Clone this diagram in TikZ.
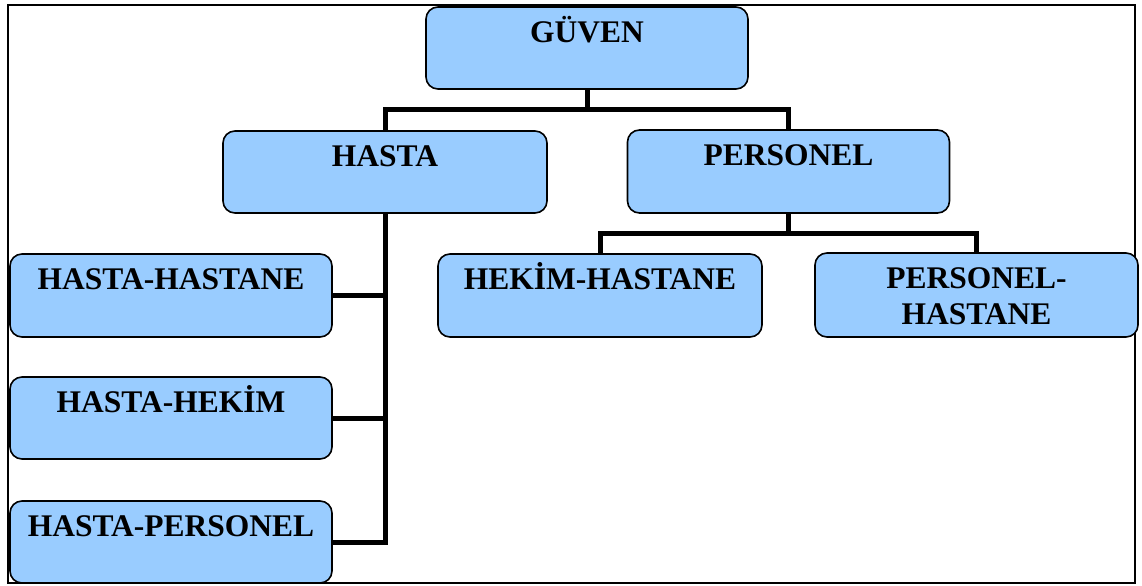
\documentclass[tikz,border=0pt]{standalone}
\usepackage{fontspec}
\setmainfont{Liberation Serif}
\usetikzlibrary{calc}
\definecolor{boxblue}{HTML}{99CCFF}
\tikzset{
  box/.style={rectangle, rounded corners=12bp, draw=black, line width=1.6bp,
    fill=boxblue, inner sep=0pt},
  boxtext/.style={anchor=base, inner sep=0pt, align=center,
    font=\fontsize{31.5bp}{36bp}\selectfont\bfseries},
  conn/.style={draw=black, line width=5bp, line join=miter},
  frame/.style={draw=black, line width=1.8bp}
}
\begin{document}
\begin{tikzpicture}[x=1bp, y=-1bp]
  \useasboundingbox (0,0) rectangle (1142,586);
  % outer frame
  \draw[frame] (8,5) rectangle (1135,583);

  % boxes
  \node[box, minimum width=322bp, minimum height=82bp] (guven)    at (587,48)    {};
  \node[box, minimum width=324bp, minimum height=82bp] (hasta)    at (385,172)   {};
  \node[box, minimum width=322bp, minimum height=83bp] (personel) at (788.5,171.5) {};
  \node[box, minimum width=322bp, minimum height=83bp] (hhast)    at (171,295.5) {};
  \node[box, minimum width=322bp, minimum height=82bp] (hhek)     at (171,418)   {};
  \node[box, minimum width=322bp, minimum height=82bp] (hpers)    at (171,542)   {};
  \node[box, minimum width=324bp, minimum height=83bp] (hekhas)   at (600,295.5) {};
  \node[box, minimum width=323bp, minimum height=84bp] (pershas)  at (976.5,295) {};

  % junction points of the connector bars
  \coordinate (j1) at (587,110);
  \coordinate (j2) at (788.5,234);

  % GÜVEN to its two branches
  \draw[conn] (guven.south) -- (j1);
  \draw[conn] (hasta.north) |- (j1) -| (personel.north);

  % HASTA trunk with three side branches
  \draw[conn] (hasta.south) |- (hpers.east);
  \draw[conn] (hhast.east) -- (hhast.east -| hasta.south);
  \draw[conn] (hhek.east) -- (hhek.east -| hasta.south);

  % PERSONEL to its two branches
  \draw[conn] (personel.south) -- (j2);
  \draw[conn] (hekhas.north) |- (j2) -| (pershas.north);

  % labels, set near the top edge of each box
  % (a two-line label is anchored at the baseline of its last line)
  \node[boxtext] (guvenT)    at ([yshift=-36bp]guven.north)    {GÜVEN};
  \node[boxtext] (hastaT)    at ([yshift=-36bp]hasta.north)    {HASTA};
  \node[boxtext] (personelT) at ([yshift=-36bp]personel.north) {PERSONEL};
  \node[boxtext] (hhastT)    at ([yshift=-36bp]hhast.north)    {HASTA-HASTANE};
  \node[boxtext] (hhekT)     at ([yshift=-36bp]hhek.north)     {HASTA-HEKİM};
  \node[boxtext] (hpersT)    at ([yshift=-36bp]hpers.north)    {HASTA-PERSONEL};
  \node[boxtext] (hekhasT)   at ([yshift=-36bp]hekhas.north)   {HEKİM-HASTANE};
  \node[boxtext] (pershasT)  at ([yshift=-72bp]pershas.north)  {PERSONEL-\\HASTANE};
\end{tikzpicture}
\end{document}
